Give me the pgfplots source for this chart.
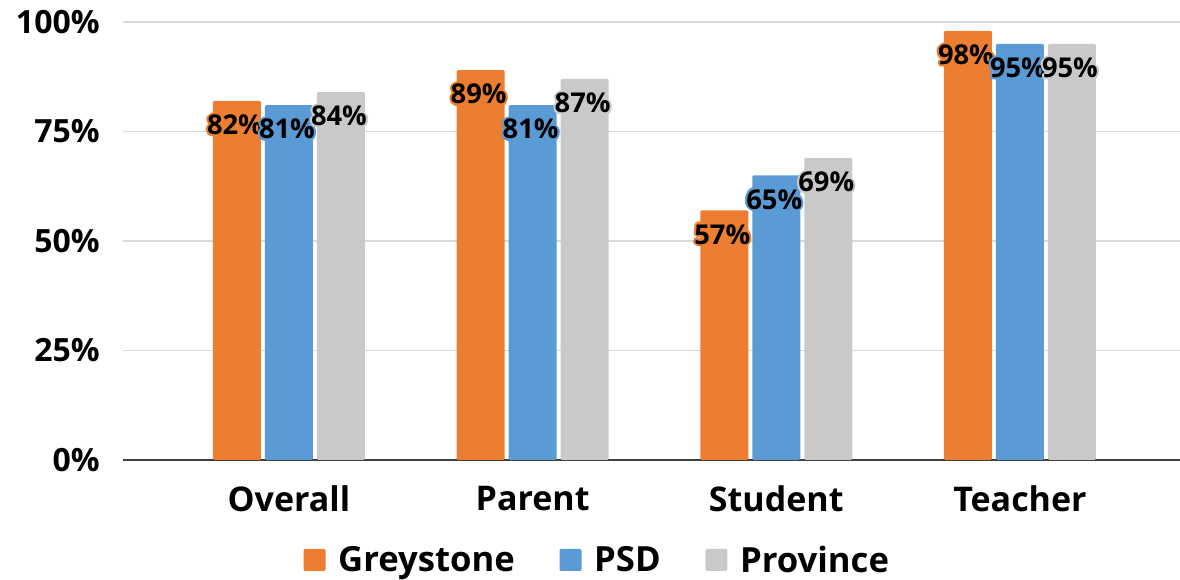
\documentclass[border=0pt]{standalone}
\usepackage{fontspec}
\setmainfont{Open Sans}
\usepackage{pgfplots}
\pgfplotsset{compat=1.18}

\definecolor{cOrange}{HTML}{ED7D31}
\definecolor{cBlue}{HTML}{5B9BD5}
\definecolor{cGrey}{HTML}{C9C9C9}
\definecolor{cGrid}{HTML}{D9D9D9}
\definecolor{cAxis}{HTML}{404040}

% text with a soft outline (halo) in a given colour
\newcommand\haloshift[3]{\makebox[0pt][l]{\hspace*{#1}\raisebox{#2}[0pt][0pt]{#3}}}
\newcommand\halotext[2]{{\color{#1}%
  \haloshift{1.6pt}{0pt}{#2}\haloshift{-1.6pt}{0pt}{#2}%
  \haloshift{0pt}{1.6pt}{#2}\haloshift{0pt}{-1.6pt}{#2}%
  \haloshift{1.13pt}{1.13pt}{#2}\haloshift{-1.13pt}{1.13pt}{#2}%
  \haloshift{1.13pt}{-1.13pt}{#2}\haloshift{-1.13pt}{-1.13pt}{#2}}#2}

\pgfplotstableread{
x greystone psd province
0 82 81 84
1 89 81 87
2 57 65 69
3 98 95 95
}\survey

\begin{document}
\begin{tikzpicture}
\begin{axis}[
  scale only axis,
  width=792.75pt, height=328.5pt,
  ybar=3pt, bar width=36pt,
  xmin=-0.681, xmax=3.657,
  ymin=0, ymax=100,
  xtick={0,1,2,3},
  xticklabels={Overall,Parent,Student,Teacher},
  ytick={0,25,50,75,100},
  yticklabels={0\%,25\%,50\%,75\%,100\%},
  major tick length=0pt,
  tick style={draw=none},
  axis x line*=bottom,
  axis y line*=left,
  x axis line style={draw=cAxis, line width=1.5pt},
  y axis line style={draw=none},
  ymajorgrids,
  grid style={draw=cGrid, line width=1.1pt},
  ticklabel style={font=\bfseries\fontsize{24}{24}\selectfont, text=black},
  yticklabel style={xshift=-14pt},
  xticklabel style={yshift=-16pt, font=\bfseries\fontsize{25.5}{25.5}\selectfont},
  /pgf/number format/assume math mode=true,
  /pgf/number format/fixed, /pgf/number format/precision=0,
  nodes near coords,
  every node near coord/.append style={
    font=\bfseries\fontsize{20.5}{20.5}\selectfont, text=black,
    anchor=center, yshift=-18pt, xshift=-1.5pt},
  legend columns=3,
  legend style={draw=none, fill=none,
    at={(0.449,-0.228)}, anchor=center,
    font=\bfseries\fontsize{26}{26}\selectfont,
    /tikz/every odd column/.append style={column sep=7.5pt},
    /tikz/every even column/.append style={column sep=31.5pt}},
  legend image code/.code={\fill[#1] (0pt,-8.25pt) rectangle (16.5pt,8.25pt);},
  clip=false,
]
\addplot[fill=cOrange, draw=none, rounded corners=1pt,
  nodes near coords={\halotext{cOrange}{\pgfmathprintnumber{\pgfplotspointmeta}\%}}]
  table[x=x, y=greystone] {\survey};
\addplot[fill=cBlue, draw=none, rounded corners=1pt,
  nodes near coords={\halotext{cBlue}{\pgfmathprintnumber{\pgfplotspointmeta}\%}}]
  table[x=x, y=psd] {\survey};
\addplot[fill=cGrey, draw=none, rounded corners=1pt,
  nodes near coords={\halotext{cGrey}{\pgfmathprintnumber{\pgfplotspointmeta}\%}}]
  table[x=x, y=province] {\survey};
\legend{Greystone, PSD, Province}
\coordinate (ll) at (rel axis cs:0,0);
\coordinate (ur) at (rel axis cs:1,1);
\end{axis}
\pgfresetboundingbox
\path ([shift={(-92.25pt,-90pt)}]ll) rectangle ([shift={(0pt,16.5pt)}]ur);
\end{tikzpicture}
\end{document}
